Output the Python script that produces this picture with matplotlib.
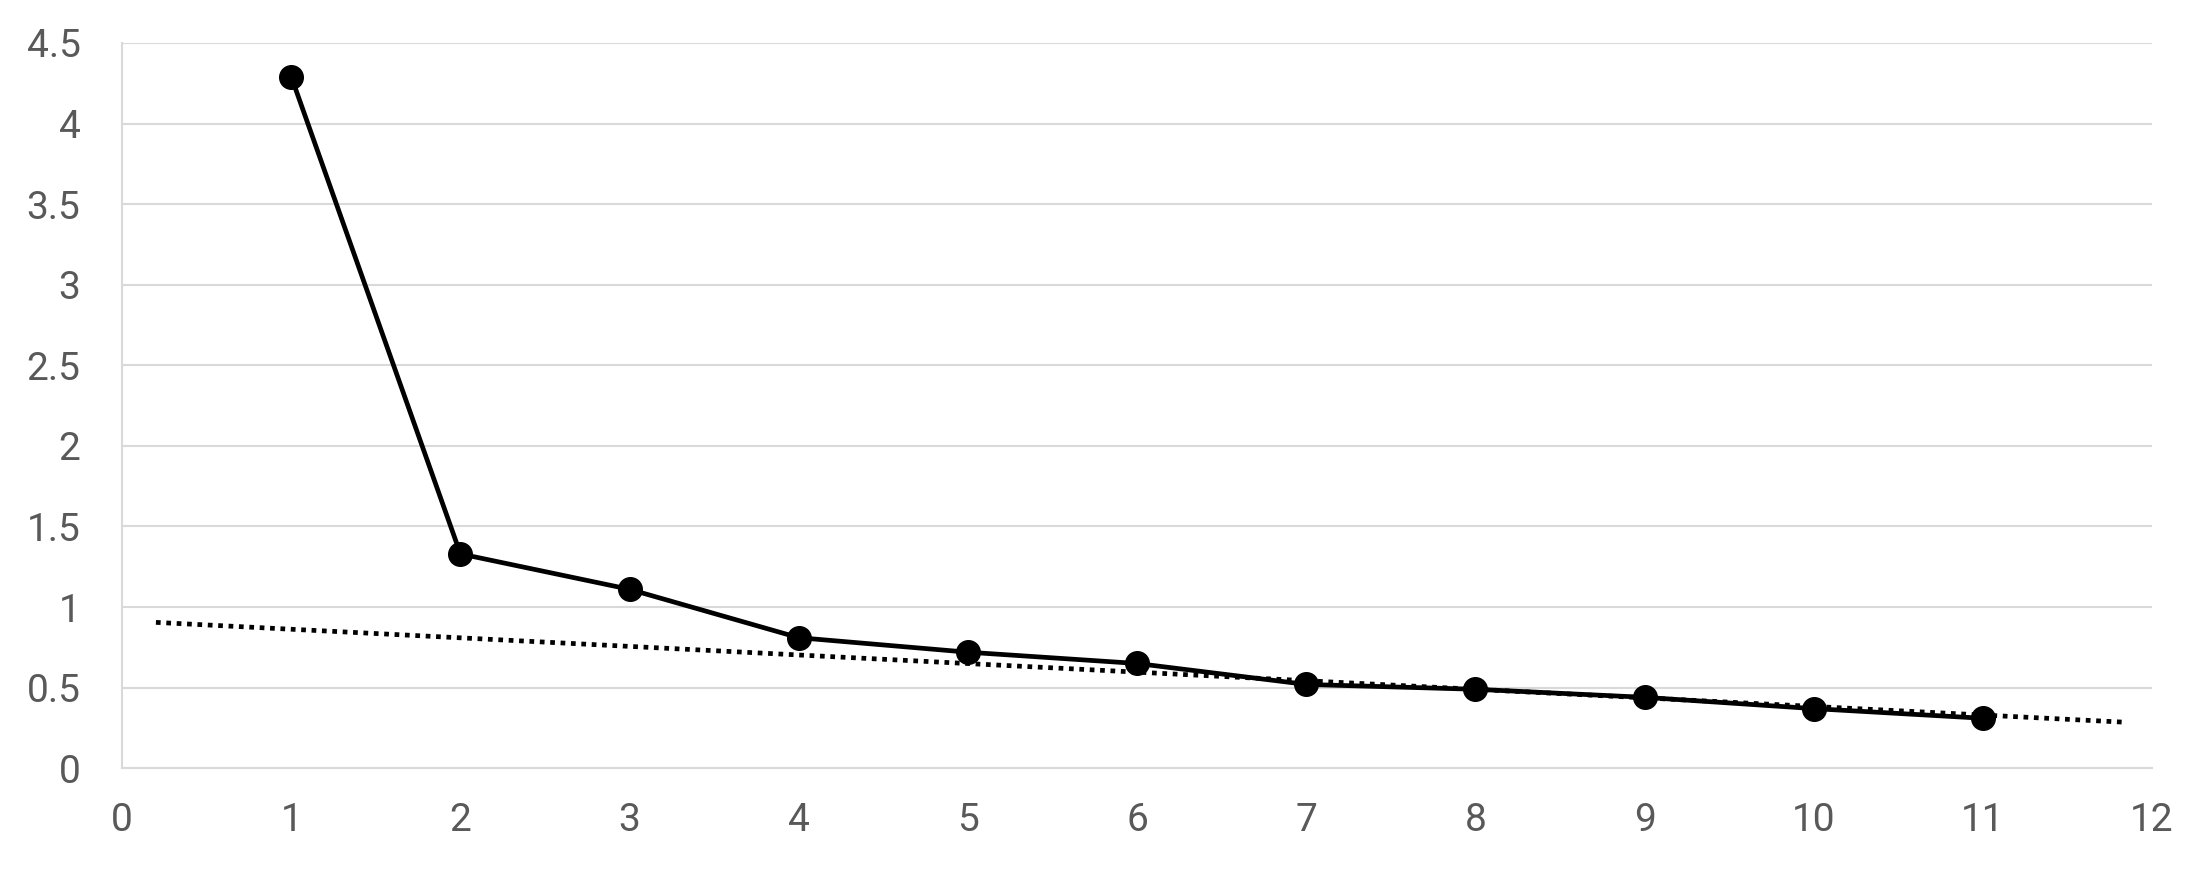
"""Scree-style line chart with a dotted linear trend line."""

import matplotlib

matplotlib.use("Agg")

import matplotlib.pyplot as plt


components = [1, 2, 3, 4, 5, 6, 7, 8, 9, 10, 11]

eigenvalues = [4.29, 1.33, 1.11, 0.81, 0.72, 0.65, 0.52, 0.49, 0.44, 0.37, 0.31]

trend_x = [0.2, 11.85]

trend_y = [0.905, 0.285]

x_ticks = list(range(0, 13))

y_ticks = [0, 0.5, 1, 1.5, 2, 2.5, 3, 3.5, 4, 4.5]

y_tick_labels = ["0", "0.5", "1", "1.5", "2", "2.5", "3", "3.5", "4", "4.5"]


plt.rcParams["font.family"] = ["Roboto", "DejaVu Sans"]


fig = plt.figure(figsize=(21.96, 8.76), dpi=100)

ax = fig.add_axes([0.0556, 0.123, 0.9244, 0.828])

ax.plot(
    trend_x,
    trend_y,
    color="black",
    linewidth=3.4,
    linestyle=(0, (1, 1.2)),
    dash_capstyle="butt",
    zorder=2,
)

ax.plot(
    components,
    eigenvalues,
    color="black",
    linewidth=3.4,
    marker="o",
    markersize=17,
    zorder=3,
)

ax.set_xlim(0, 12)

ax.set_ylim(0, 4.5)

ax.set_xticks(x_ticks)

ax.set_yticks(y_ticks)

ax.set_yticklabels(y_tick_labels)

ax.grid(axis="y", color="#d9d9d9", linewidth=1.5)

ax.set_axisbelow(True)

for side in ["top", "right"]:
    ax.spines[side].set_visible(False)

for side in ["left", "bottom"]:
    ax.spines[side].set_color("#d9d9d9")
    ax.spines[side].set_linewidth(1.5)

ax.tick_params(axis="both", length=0, labelsize=28, colors="#595959")

ax.tick_params(axis="y", pad=30)

ax.tick_params(axis="x", pad=24)

fig.savefig("out.png", dpi=100)

plt.close(fig)
